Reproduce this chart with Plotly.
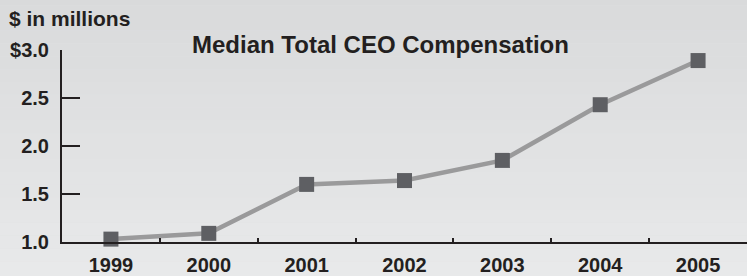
import plotly.graph_objects as go

years = ["1999", "2000", "2001", "2002", "2003", "2004", "2005"]
median_comp = [1.03, 1.09, 1.60, 1.64, 1.85, 2.43, 2.89]
y_tick_vals = [1.0, 1.5, 2.0, 2.5, 3.0]
y_tick_text = ["1.0", "1.5", "2.0", "2.5", "$3.0"]

FONT = "Liberation Sans, Arial, sans-serif"
INK = "#231f20"

fig = go.Figure()
fig.add_trace(go.Scatter(
    x=years, y=median_comp, mode="lines+markers",
    line=dict(color="#9a9a9b", width=4.5),
    marker=dict(symbol="square", size=15, color="#5e5f63",
                line=dict(width=0)),
    cliponaxis=False, hoverinfo="skip",
))

# background gradient bands
n = 24
top = (217, 218, 219)
bot = (233, 234, 235)
shapes = []
for i in range(n):
    t = i / (n - 1)
    c = tuple(round(top[k] + (bot[k] - top[k]) * t) for k in range(3))
    shapes.append(dict(type="rect", xref="paper", yref="paper",
                       x0=-0.2, x1=1.1,
                       y0=1.3 - (i + 1) * 1.6 / n, y1=1.3 - i * 1.6 / n,
                       fillcolor="rgb(%d,%d,%d)" % c, line=dict(width=0),
                       layer="below"))

fig.update_layout(
    width=747, height=276,
    margin=dict(l=62, r=0, t=50, b=34),
    paper_bgcolor="#e0e1e2", plot_bgcolor="rgba(0,0,0,0)",
    shapes=shapes,
    showlegend=False,
    font=dict(family=FONT, color=INK, size=16, weight="bold"),
    xaxis=dict(type="category", range=[-0.5, 6.5], showgrid=False,
               showline=True, linecolor=INK, linewidth=2,
               ticks="inside", ticklen=4, tickwidth=2, tickcolor=INK,
               tickson="boundaries", zeroline=False,
               ticklabelstandoff=4,
               tickfont=dict(family=FONT, size=20, color=INK, weight="bold")),
    yaxis=dict(range=[1.0, 3.0], showgrid=False, zeroline=False,
               showline=True, linecolor=INK, linewidth=2,
               ticks="inside", ticklen=18, tickwidth=2, tickcolor=INK,
               tickvals=y_tick_vals, ticktext=y_tick_text,
               ticklabelstandoff=7,
               tickfont=dict(family=FONT, size=20, color=INK, weight="bold")),
    annotations=[
        dict(text="$ in millions", xref="paper", yref="paper",
             x=(7 - 62) / 685, y=1 + 31.5 / 192, xanchor="left", yanchor="middle",
             showarrow=False,
             font=dict(family=FONT, size=21, color=INK, weight="bold")),
        dict(text="Median Total CEO Compensation", xref="paper", yref="paper",
             x=(380 - 62) / 685, y=1 + 6 / 192, xanchor="center", yanchor="middle",
             showarrow=False,
             font=dict(family=FONT, size=24, color=INK, weight="bold")),
    ],
)

fig.write_html("out.html", config={"displayModeBar": False},
               post_script="document.body.style.margin='0';")
